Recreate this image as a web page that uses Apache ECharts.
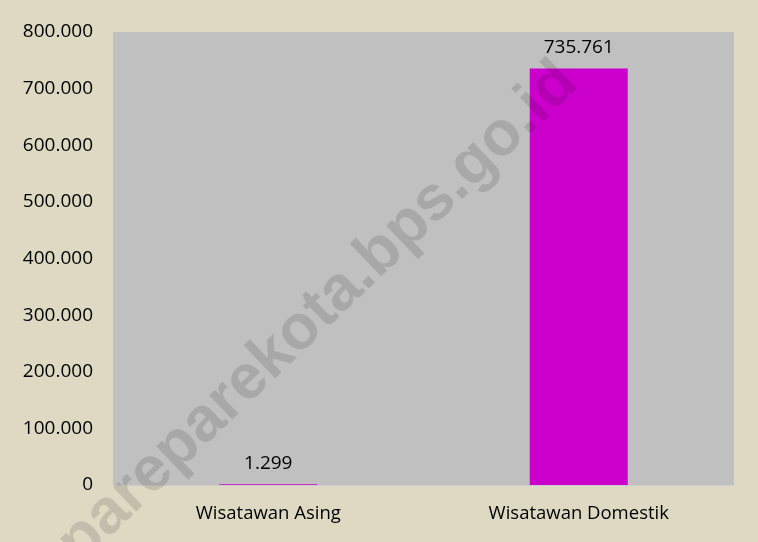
<!DOCTYPE html>
<html>
<head>
<meta charset="utf-8">
<script src="https://cdn.jsdelivr.net/npm/echarts@6/dist/echarts.min.js"></script>
<style>
  html, body { margin: 0; padding: 0; background: #ddd9c3; }
  #chart { width: 758px; height: 542px; }
</style>
</head>
<body>
<div id="chart"></div>
<script>
const categories = ['Wisatawan Asing', 'Wisatawan Domestik']
const visitors = [1299, 735761]
const yTicks = [0, 100000, 200000, 300000, 400000, 500000, 600000, 700000, 800000]

// format with '.' as thousands separator
function fmt(v) {
  return String(v).replace(/\B(?=(\d{3})+(?!\d))/g, '.')
}

const chartObj = echarts.init(document.getElementById('chart'))

const option = {
  backgroundColor: '#ddd9c3',
  animation: false,
  textStyle: { fontFamily: 'Open Sans' },
  grid: {
    show: true,
    left: 113,
    right: 24,
    top: 32,
    bottom: 57,
    backgroundColor: '#c0c0c0',
    borderWidth: 0,
  },
  xAxis: {
    type: 'category',
    data: categories,
    axisLine: { show: true, lineStyle: { color: '#cccccc', width: 1 } },
    axisTick: { show: false },
    axisLabel: { color: '#000', fontSize: 18.5, margin: 19 },
  },
  yAxis: {
    type: 'value',
    min: yTicks[0],
    max: yTicks[yTicks.length - 1],
    interval: yTicks[1] - yTicks[0],
    splitLine: { show: false },
    axisLine: { show: false },
    axisTick: { show: false },
    axisLabel: {
      color: '#000',
      fontSize: 19,
      margin: 20,
      formatter: v => fmt(v),
    },
  },
  series: [
    {
      type: 'bar',
      data: visitors,
      barWidth: 98,
      itemStyle: { color: '#cc00cc' },
      label: {
        show: true,
        position: 'top',
        distance: 11,
        color: '#000',
        fontSize: 19,
        formatter: p => fmt(p.value),
      },
    },
  ],
  graphic: [
    {
      type: 'text',
      x: 318,
      y: 313,
      rotation: Math.PI * 43.8 / 180,
      z: 100,
      silent: true,
      style: {
        text: 'pareparekota.bps.go.id',
        font: 'bold 63px "Liberation Sans"',
        fill: 'rgba(0,0,0,0.12)',
        align: 'center',
        verticalAlign: 'middle',
      },
    },
  ],
}

chartObj.setOption(option)
</script>
</body>
</html>
